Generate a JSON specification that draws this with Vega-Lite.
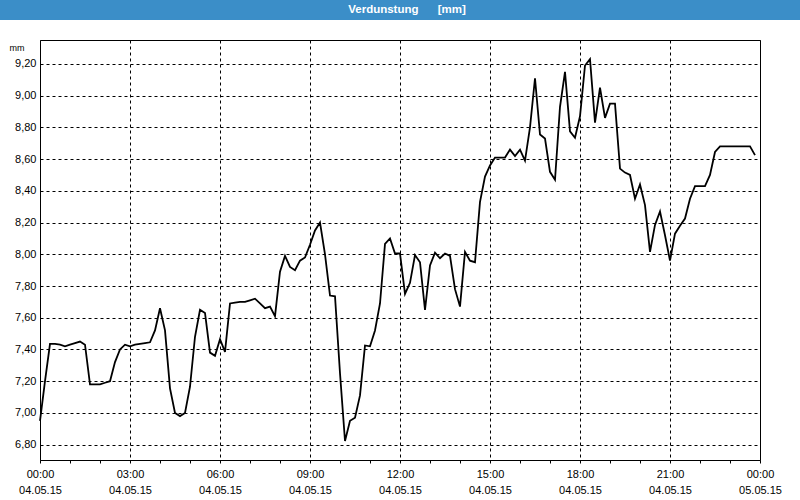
{
  "$schema": "https://vega.github.io/schema/vega-lite/v6.json",
  "padding": 0,
  "background": "white",
  "spacing": 20,
  "center": true,
  "bounds": "flush",
  "config": {"font": "Liberation Sans", "view": {"stroke": "black", "strokeWidth": 1}},
  "vconcat": [
    {
      "width": 800,
      "height": 20,
      "view": {"fill": "#3b8ec8", "stroke": null},
      "data": {"values": [{"label": "Verdunstung\u00a0\u00a0\u00a0\u00a0\u00a0\u00a0[mm]"}]},
      "mark": {"type": "text", "color": "white", "fontWeight": "bold", "fontSize": 11.5, "font": "Liberation Sans", "dx": 7, "baseline": "middle"},
      "encoding": {"text": {"field": "label", "type": "nominal"}}
    },
    {
      "width": 720,
      "height": 420,
      "data": {"values": [
        {"t": "2015-05-04T00:00:00Z", "v": 6.95},
        {"t": "2015-05-04T00:10:00Z", "v": 7.20},
        {"t": "2015-05-04T00:20:00Z", "v": 7.435},
        {"t": "2015-05-04T00:30:00Z", "v": 7.435},
        {"t": "2015-05-04T00:40:00Z", "v": 7.43},
        {"t": "2015-05-04T00:50:00Z", "v": 7.42},
        {"t": "2015-05-04T01:00:00Z", "v": 7.43},
        {"t": "2015-05-04T01:10:00Z", "v": 7.44},
        {"t": "2015-05-04T01:20:00Z", "v": 7.45},
        {"t": "2015-05-04T01:30:00Z", "v": 7.43},
        {"t": "2015-05-04T01:40:00Z", "v": 7.18},
        {"t": "2015-05-04T01:50:00Z", "v": 7.18},
        {"t": "2015-05-04T02:00:00Z", "v": 7.18},
        {"t": "2015-05-04T02:10:00Z", "v": 7.19},
        {"t": "2015-05-04T02:20:00Z", "v": 7.20},
        {"t": "2015-05-04T02:30:00Z", "v": 7.32},
        {"t": "2015-05-04T02:40:00Z", "v": 7.40},
        {"t": "2015-05-04T02:50:00Z", "v": 7.43},
        {"t": "2015-05-04T03:00:00Z", "v": 7.42},
        {"t": "2015-05-04T03:10:00Z", "v": 7.43},
        {"t": "2015-05-04T03:20:00Z", "v": 7.435},
        {"t": "2015-05-04T03:30:00Z", "v": 7.44},
        {"t": "2015-05-04T03:40:00Z", "v": 7.445},
        {"t": "2015-05-04T03:50:00Z", "v": 7.52},
        {"t": "2015-05-04T04:00:00Z", "v": 7.66},
        {"t": "2015-05-04T04:10:00Z", "v": 7.52},
        {"t": "2015-05-04T04:20:00Z", "v": 7.155},
        {"t": "2015-05-04T04:30:00Z", "v": 7.00},
        {"t": "2015-05-04T04:40:00Z", "v": 6.98},
        {"t": "2015-05-04T04:50:00Z", "v": 7.00},
        {"t": "2015-05-04T05:00:00Z", "v": 7.165},
        {"t": "2015-05-04T05:10:00Z", "v": 7.48},
        {"t": "2015-05-04T05:20:00Z", "v": 7.65},
        {"t": "2015-05-04T05:30:00Z", "v": 7.63},
        {"t": "2015-05-04T05:40:00Z", "v": 7.38},
        {"t": "2015-05-04T05:50:00Z", "v": 7.36},
        {"t": "2015-05-04T06:00:00Z", "v": 7.465},
        {"t": "2015-05-04T06:10:00Z", "v": 7.385},
        {"t": "2015-05-04T06:20:00Z", "v": 7.69},
        {"t": "2015-05-04T06:30:00Z", "v": 7.695},
        {"t": "2015-05-04T06:40:00Z", "v": 7.70},
        {"t": "2015-05-04T06:50:00Z", "v": 7.70},
        {"t": "2015-05-04T07:00:00Z", "v": 7.71},
        {"t": "2015-05-04T07:10:00Z", "v": 7.72},
        {"t": "2015-05-04T07:20:00Z", "v": 7.69},
        {"t": "2015-05-04T07:30:00Z", "v": 7.66},
        {"t": "2015-05-04T07:40:00Z", "v": 7.67},
        {"t": "2015-05-04T07:50:00Z", "v": 7.61},
        {"t": "2015-05-04T08:00:00Z", "v": 7.89},
        {"t": "2015-05-04T08:10:00Z", "v": 7.99},
        {"t": "2015-05-04T08:20:00Z", "v": 7.92},
        {"t": "2015-05-04T08:30:00Z", "v": 7.90},
        {"t": "2015-05-04T08:40:00Z", "v": 7.96},
        {"t": "2015-05-04T08:50:00Z", "v": 7.98},
        {"t": "2015-05-04T09:00:00Z", "v": 8.06},
        {"t": "2015-05-04T09:10:00Z", "v": 8.15},
        {"t": "2015-05-04T09:20:00Z", "v": 8.20},
        {"t": "2015-05-04T09:30:00Z", "v": 8.00},
        {"t": "2015-05-04T09:40:00Z", "v": 7.74},
        {"t": "2015-05-04T09:50:00Z", "v": 7.735},
        {"t": "2015-05-04T10:00:00Z", "v": 7.25},
        {"t": "2015-05-04T10:10:00Z", "v": 6.823},
        {"t": "2015-05-04T10:20:00Z", "v": 6.95},
        {"t": "2015-05-04T10:30:00Z", "v": 6.97},
        {"t": "2015-05-04T10:40:00Z", "v": 7.11},
        {"t": "2015-05-04T10:50:00Z", "v": 7.425},
        {"t": "2015-05-04T11:00:00Z", "v": 7.42},
        {"t": "2015-05-04T11:10:00Z", "v": 7.52},
        {"t": "2015-05-04T11:20:00Z", "v": 7.69},
        {"t": "2015-05-04T11:30:00Z", "v": 8.065},
        {"t": "2015-05-04T11:40:00Z", "v": 8.10},
        {"t": "2015-05-04T11:50:00Z", "v": 8.005},
        {"t": "2015-05-04T12:00:00Z", "v": 8.005},
        {"t": "2015-05-04T12:10:00Z", "v": 7.75},
        {"t": "2015-05-04T12:20:00Z", "v": 7.82},
        {"t": "2015-05-04T12:30:00Z", "v": 7.995},
        {"t": "2015-05-04T12:40:00Z", "v": 7.95},
        {"t": "2015-05-04T12:50:00Z", "v": 7.65},
        {"t": "2015-05-04T13:00:00Z", "v": 7.93},
        {"t": "2015-05-04T13:10:00Z", "v": 8.01},
        {"t": "2015-05-04T13:20:00Z", "v": 7.975},
        {"t": "2015-05-04T13:30:00Z", "v": 8.005},
        {"t": "2015-05-04T13:40:00Z", "v": 7.99},
        {"t": "2015-05-04T13:50:00Z", "v": 7.78},
        {"t": "2015-05-04T14:00:00Z", "v": 7.67},
        {"t": "2015-05-04T14:10:00Z", "v": 8.015},
        {"t": "2015-05-04T14:20:00Z", "v": 7.96},
        {"t": "2015-05-04T14:30:00Z", "v": 7.95},
        {"t": "2015-05-04T14:40:00Z", "v": 8.33},
        {"t": "2015-05-04T14:50:00Z", "v": 8.49},
        {"t": "2015-05-04T15:00:00Z", "v": 8.56},
        {"t": "2015-05-04T15:10:00Z", "v": 8.61},
        {"t": "2015-05-04T15:20:00Z", "v": 8.61},
        {"t": "2015-05-04T15:30:00Z", "v": 8.61},
        {"t": "2015-05-04T15:40:00Z", "v": 8.66},
        {"t": "2015-05-04T15:50:00Z", "v": 8.62},
        {"t": "2015-05-04T16:00:00Z", "v": 8.66},
        {"t": "2015-05-04T16:10:00Z", "v": 8.59},
        {"t": "2015-05-04T16:20:00Z", "v": 8.80},
        {"t": "2015-05-04T16:30:00Z", "v": 9.11},
        {"t": "2015-05-04T16:40:00Z", "v": 8.755},
        {"t": "2015-05-04T16:50:00Z", "v": 8.73},
        {"t": "2015-05-04T17:00:00Z", "v": 8.52},
        {"t": "2015-05-04T17:10:00Z", "v": 8.47},
        {"t": "2015-05-04T17:20:00Z", "v": 8.93},
        {"t": "2015-05-04T17:30:00Z", "v": 9.15},
        {"t": "2015-05-04T17:40:00Z", "v": 8.775},
        {"t": "2015-05-04T17:50:00Z", "v": 8.735},
        {"t": "2015-05-04T18:00:00Z", "v": 8.87},
        {"t": "2015-05-04T18:10:00Z", "v": 9.19},
        {"t": "2015-05-04T18:20:00Z", "v": 9.23},
        {"t": "2015-05-04T18:30:00Z", "v": 8.83},
        {"t": "2015-05-04T18:40:00Z", "v": 9.05},
        {"t": "2015-05-04T18:50:00Z", "v": 8.86},
        {"t": "2015-05-04T19:00:00Z", "v": 8.95},
        {"t": "2015-05-04T19:10:00Z", "v": 8.95},
        {"t": "2015-05-04T19:20:00Z", "v": 8.54},
        {"t": "2015-05-04T19:30:00Z", "v": 8.515},
        {"t": "2015-05-04T19:40:00Z", "v": 8.50},
        {"t": "2015-05-04T19:50:00Z", "v": 8.35},
        {"t": "2015-05-04T20:00:00Z", "v": 8.44},
        {"t": "2015-05-04T20:10:00Z", "v": 8.31},
        {"t": "2015-05-04T20:20:00Z", "v": 8.015},
        {"t": "2015-05-04T20:30:00Z", "v": 8.185},
        {"t": "2015-05-04T20:40:00Z", "v": 8.27},
        {"t": "2015-05-04T20:50:00Z", "v": 8.12},
        {"t": "2015-05-04T21:00:00Z", "v": 7.96},
        {"t": "2015-05-04T21:10:00Z", "v": 8.13},
        {"t": "2015-05-04T21:20:00Z", "v": 8.18},
        {"t": "2015-05-04T21:30:00Z", "v": 8.225},
        {"t": "2015-05-04T21:40:00Z", "v": 8.35},
        {"t": "2015-05-04T21:50:00Z", "v": 8.43},
        {"t": "2015-05-04T22:00:00Z", "v": 8.43},
        {"t": "2015-05-04T22:10:00Z", "v": 8.43},
        {"t": "2015-05-04T22:20:00Z", "v": 8.50},
        {"t": "2015-05-04T22:30:00Z", "v": 8.645},
        {"t": "2015-05-04T22:40:00Z", "v": 8.68},
        {"t": "2015-05-04T22:50:00Z", "v": 8.68},
        {"t": "2015-05-04T23:00:00Z", "v": 8.68},
        {"t": "2015-05-04T23:10:00Z", "v": 8.68},
        {"t": "2015-05-04T23:20:00Z", "v": 8.68},
        {"t": "2015-05-04T23:30:00Z", "v": 8.68},
        {"t": "2015-05-04T23:40:00Z", "v": 8.68},
        {"t": "2015-05-04T23:50:00Z", "v": 8.625}
      ]},
      "mark": {"type": "line", "color": "black", "strokeWidth": 1.8},
      "encoding": {
        "x": {
          "field": "t",
          "type": "temporal",
          "scale": {"type": "utc", "nice": false, "domain": ["2015-05-04T00:00:00Z", "2015-05-05T00:00:00Z"]},
          "axis": {
            "title": null,
            "tickCount": 24,
            "domainColor": "black",
            "tickColor": "black",
            "tickSize": 3,
            "grid": true,
            "gridColor": "black",
            "gridDash": [3, 3],
            "gridWidth": 1,
            "gridOpacity": {"condition": {"test": "utchours(datum.value) % 3 == 0", "value": 1}, "value": 0},
            "labelExpr": "utchours(datum.value) % 3 == 0 ? [utcFormat(datum.value, '%H:%M'), utcFormat(datum.value, '%d.%m.%y')] : ''",
            "labelFont": "Liberation Sans",
            "labelFontSize": 11,
            "labelColor": "black",
            "labelLineHeight": 16,
            "labelPadding": 5,
            "labelOverlap": false,
            "labelFlush": false
          }
        },
        "y": {
          "field": "v",
          "type": "quantitative",
          "scale": {"domain": [6.703, 9.351], "nice": false, "zero": false},
          "axis": {
            "title": "mm",
            "titleAngle": 0,
            "titleX": -16,
            "titleY": 10,
            "titleAlign": "right",
            "titleBaseline": "alphabetic",
            "titleFont": "Liberation Sans",
            "titleFontSize": 9,
            "titleFontWeight": "normal",
            "titleColor": "black",
            "values": [6.8, 7.0, 7.2, 7.4, 7.6, 7.8, 8.0, 8.2, 8.4, 8.6, 8.8, 9.0, 9.2],
            "labelExpr": "replace(format(datum.value, '.2f'), '.', ',')",
            "labelFont": "Liberation Sans",
            "labelFontSize": 11,
            "labelColor": "black",
            "labelPadding": 4,
            "ticks": false,
            "domain": false,
            "grid": true,
            "gridColor": "black",
            "gridDash": [3, 3],
            "gridWidth": 1
          }
        }
      }
    }
  ]
}
